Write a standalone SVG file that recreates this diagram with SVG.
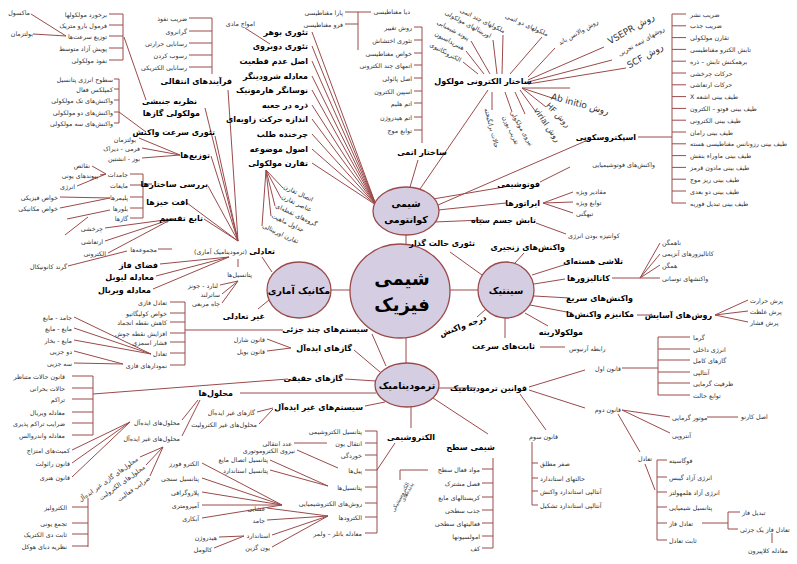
<svg xmlns="http://www.w3.org/2000/svg" width="797" height="564" viewBox="0 0 797 564">
<style>
text{font-family:"DejaVu Sans",sans-serif;dominant-baseline:central;fill:#333;font-size:6.3px}
.b{font-weight:bold;font-size:8px;fill:#000}
.e{text-anchor:end}
.s{text-anchor:start}
.m{text-anchor:middle}
.nt{font-weight:bold;font-size:9.5px;fill:#000;text-anchor:middle}
.big{font-weight:bold;font-size:18px;fill:#000;text-anchor:middle}
.c path{stroke:#9b4a4a;stroke-width:1;fill:none}
ellipse{fill:#d5cde2;stroke:#9b4a4a;stroke-width:1.3}
</style>
<rect width="797" height="564" fill="#fff"/>
<g id="connectors" class="c">
<path d="M406 235V244M331 290H350M450 290H478M406 338V363"/>
<path d="M109 14H123M109 25H123M109 36H123M109 48H123M109 60H123M123 14V60M31 14L66 36M33 34L66 36M124 37L146 100"/>
<path d="M114 79H119M114 89H119M114 100H119M114 112H119M114 123H119M119 79V123M119 112L146 132"/>
<path d="M189 18H212M189 31H212M189 43H212M189 55H212M189 67H212M212 18V74M245 28L270 44"/>
<path d="M139 138L180 155M142 148L180 155M142 158L180 155M92 166L106 174M100 175L106 174M77 186L106 174"/>
<path d="M130 174H143M130 185H143M130 197H143M130 208H143M130 218H143M143 174V218M143 184H152M60 197L110 198M60 208L110 198M67 219L110 210M65 235L88 217"/>
<path d="M105 228L172 219M105 241L172 219M108 253L172 219M68 266L127 251M158 249H172"/>
<path d="M228 90L238 241M205 108L238 241M215 136L238 241M211 156L238 241M208 186L238 241M187 203L238 241M204 219L238 241"/>
<path d="M160 264L229 257M156 276L229 257M153 289L229 257M262 257L272 272M238 259V267M220 285L238 281M222 294L238 281M222 303L238 281M269 300L258 309"/>
<path d="M170 302H185M170 313H185M170 322H185M170 333H185M170 342H185M170 353H185M170 365H185M185 302V365M185 330H283"/>
<path d="M74 317L151 354M74 328L151 354M74 340L151 354M74 351L123 364M74 363L123 364M267 339L291 348M267 351L291 348M372 334L386 366M354 350L380 372"/>
<path d="M312 32L376 205M312 46L376 205M312 61L376 205M312 76L376 205M312 90L376 205M312 105L376 205M312 119L376 205M312 134L376 205M312 149L376 205M312 163L376 205"/>
<path d="M266 170L283 188M266 170L281 198M266 170L275 206M266 170L271 216M266 170L262 226"/>
<path d="M345 12H371M345 24H358M358 12V50"/>
<path d="M414 27H422M414 40H422M414 53H422M414 65H422M414 78H422M414 91H422M414 103H422M414 117H422M414 130H422M422 27V143M418 160L410 187"/>
<path d="M488 90L420 189M478 74L463 62M484 74L466 51M490 74L471 41M497 74L493 40M502 74L503 35M510 74L542 37"/>
<path d="M528 77L555 48M528 80L604 47M528 82L612 60M528 84L626 68M522 88H570M522 88L555 99M522 88L546 107M520 90L536 112M515 92L525 114M505 92L512 112M492 92V110"/>
<path d="M438 205L588 140M638 137H672M672 14V203"/>
<path d="M672 14H686M672 25.8H686M672 37.6H686M672 49.4H686M672 61.2H686M672 73H686M672 84.8H686M672 96.6H686M672 108.4H686M672 120.2H686M672 132H686M672 143.8H686M672 155.6H686M672 167.4H686M672 179.2H686M672 191H686M672 203H686"/>
<path d="M433 199L510 186M540 182L570 167M438 210L506 203M434 222L483 220M543 203L573 192M543 203L573 202M543 203L573 213M536 223L566 234"/>
<path d="M450 252L482 275M524 253L515 263M532 275L570 263M534 284L565 279M612 278H640M640 278L660 243M640 278L660 254M640 278L660 265M640 278H660"/>
<path d="M534 296L570 298M530 305L572 313M637 315H652M715 315L748 300M715 315L748 311M715 315L748 322M525 313L548 326M505 318V338M540 347H565M486 309L477 317"/>
<path d="M437 388H476M529 387L585 370M529 390L585 408M520 394L546 430M622 368H658M658 337V395M658 337H690M658 349H690M658 360H690M658 372H690M658 383H690M658 395H690"/>
<path d="M622 410L670 417M622 410L670 433M707 417H738M618 414L640 452M645 464L655 490M657 460V540M657 460H667M657 477H667M657 492H667M657 507H667M657 523H667M657 540H667M702 523H728M728 512V529M728 512H740M728 529H738M772 533V543"/>
<path d="M532 442V505M532 463H538M532 478H538M532 491H538M532 505H538"/>
<path d="M433 398L488 434M493 458V548M482 469H493M482 483H493M482 497H493M482 510H493M482 523H493M482 536H493M482 548H493M428 470H400V480"/>
<path d="M411 407V428M395 443L377 470M377 431V533M365 431H377M365 443H377M365 455H377M365 470H377M365 487H377M365 503H377M365 517H377M365 533H377M294 443H327M297 450L338 468M270 460L328 486M270 470L328 486"/>
<path d="M202 463L282 505M202 478L282 505M202 492L282 505M202 505L282 505M202 518L282 505M267 508L328 516M267 520L328 516M272 535L328 516M272 547L328 516M219 537L244 536M214 548L244 536"/>
<path d="M345 379L376 381M93 394L288 379M72 376H93M72 388H93M72 399H93M72 412H93M72 423H93M72 435H93M93 376V435M240 393H376M182 420L198 400M182 436L200 400M365 406L385 402M257 412L273 408M259 424L273 409"/>
<path d="M72 450L130 422M72 463L130 422M72 477L130 422M163 447L140 457M163 447L146 465M163 447L150 476M88 498V547M72 507H88M72 523H88M72 534H88M72 546H88"/>
</g>
<g id="n-central"><ellipse cx="400" cy="291" rx="50" ry="47"/><text class="big" x="402" y="278">شیمی</text><text class="big" x="402" y="304">فیزیک</text></g>
<g id="n-quantum"><ellipse cx="406" cy="211" rx="33" ry="24"/><text class="nt" x="406" y="203">شیمی</text><text class="nt" x="406" y="219">کوانتومی</text></g>
<g id="n-kinetics"><ellipse cx="506" cy="290" rx="28" ry="28"/><text class="nt" x="506" y="290">سینتیک</text></g>
<g id="n-statmech"><ellipse cx="299" cy="290" rx="32" ry="28"/><text class="nt" x="299" y="290">مکانیک آماری</text></g>
<g id="n-thermo"><ellipse cx="407" cy="385" rx="32" ry="22"/><text class="nt" x="407" y="385">ترمودینامیک</text></g>
<g id="g-kinetic-gas">
<text class="e" x="107" y="14">برخورد مولکولها</text><text class="e" x="107" y="25">فرمول بارو متریک</text><text class="e" x="107" y="36">توزیع سرعت‌ها</text><text class="e" x="107" y="48">پویش آزاد متوسط</text><text class="e" x="107" y="60">نفوذ مولکولی</text>
<text class="e" x="30" y="12">ماکسول</text><text class="e" x="33" y="33">بولتزمان</text>
<text class="b e" x="197" y="101">نظریه جنبشی</text><text class="b e" x="200" y="113">مولکولی گازها</text>
</g>
<g id="g-rate">
<text class="e" x="113" y="79">سطوح انرژی پتانسیل</text><text class="e" x="113" y="89">کمپلکس فعال</text><text class="e" x="113" y="100">واکنش‌های تک مولکولی</text><text class="e" x="113" y="112">واکنش‌های دو مولکولی</text><text class="e" x="113" y="123">واکنش‌های سه مولکولی</text>
<text class="b e" x="215" y="132">تئوری سرعت واکنش</text>
</g>
<g id="g-transport">
<text class="e" x="187" y="18">ضریب نفوذ</text><text class="e" x="187" y="31">گرانروی</text><text class="e" x="187" y="43">رسانایی حرارتی</text><text class="e" x="187" y="55">رسوب کردن</text><text class="e" x="187" y="67">رسانایی الکتریکی</text>
<text class="b e" x="232" y="81">فرآیندهای انتقالی</text><text class="e" x="255" y="23">امواج مادی</text>
</g>
<g id="g-dist">
<text class="e" x="136" y="139">بولتزمان</text><text class="e" x="140" y="148">فرمی - دیراک</text><text class="e" x="140" y="158">بوز - انشتین</text><text class="b e" x="210" y="155">توزیع‌ها</text>
</g>
<g id="g-struct">
<text class="e" x="90" y="165">نقائص</text><text class="e" x="98" y="175">پیوندهای یونی</text><text class="e" x="75" y="186">انرژی</text>
<text class="e" x="128" y="174">جامدات</text><text class="e" x="128" y="185">مایعات</text><text class="e" x="128" y="197">پلیمرها</text><text class="e" x="128" y="208">بلورها</text><text class="e" x="128" y="218">گازها</text>
<text class="b e" x="208" y="184">بررسی ساختارها</text>
<text class="e" x="58" y="197">خواص فیزیکی</text><text class="e" x="58" y="208">خواص مکانیکی</text>
<text class="b e" x="188" y="202">افت خیزها</text><text class="b e" x="203" y="218">تابع تقسیم</text>
<text class="e" x="103" y="228">چرخشی</text><text class="e" x="103" y="241">ارتعاشی</text><text class="e" x="106" y="253">الکترونی</text>
<text class="e" x="67" y="266">گرند کانونیکال</text>
</g>
<g id="g-equil">
<text class="e" x="157" y="249">مجموعه‌ها</text><text class="e" x="247" y="251">(ترمودینامیک آماری)</text><text class="b e" x="275" y="251">تعادلی</text>
<text class="b e" x="158" y="265">فضای فاز</text><text class="b e" x="154" y="277">معادله لیوبل</text><text class="b e" x="151" y="290">معادله ویربال</text>
<text class="e" x="252" y="274">پتانسیل‌ها</text><text class="e" x="218" y="285">لنارد - جونز</text><text class="e" x="220" y="294">ساترلند</text><text class="e" x="220" y="303">چاه مربعی</text>
<text class="b e" x="265" y="316">غیر تعادلی</text>
</g>
<g id="g-multi">
<text class="e" x="167" y="302">تعادل فازی</text><text class="e" x="167" y="313">خواص کولیگاتیو</text><text class="e" x="167" y="322">کاهش نقطه انجماد</text><text class="e" x="167" y="333">افزایش نقطه جوش</text><text class="e" x="167" y="342">فشار اسمزی</text><text class="e" x="167" y="353">تعادل</text><text class="e" x="167" y="365">نمودارهای فازی</text>
<text class="e" x="72" y="317">جامد - مایع</text><text class="e" x="72" y="328">مایع - مایع</text><text class="e" x="72" y="340">مایع - بخار</text><text class="e" x="72" y="351">دو جزیی</text><text class="e" x="72" y="363">سه جزیی</text>
<text class="b e" x="368" y="329">سیستم‌های چند جزئی</text>
<text class="e" x="265" y="339">قانون شارل</text><text class="e" x="265" y="351">قانون بویل</text><text class="b e" x="352" y="348">گازهای ایده‌آل</text>
</g>
<g id="g-quantum-list">
<text class="b e" x="308" y="32">تئوری بوهر</text><text class="b e" x="308" y="46">تئوری دوبروی</text><text class="b e" x="308" y="61">اصل عدم قطعیت</text><text class="b e" x="308" y="76">معادله شرودینگر</text><text class="b e" x="308" y="90">نوسانگر هارمونیک</text><text class="b e" x="308" y="105">ذره در جعبه</text><text class="b e" x="308" y="119">اندازه حرکت زاویه‌ای</text><text class="b e" x="308" y="134">چرخنده طلب</text><text class="b e" x="308" y="149">اصول موضوعه</text><text class="b e" x="308" y="163">تقارن مولکولی</text>
<text class="s" transform="translate(284,186) rotate(25)">اتصال تقارن</text><text class="s" transform="translate(282,196) rotate(25)">عناصر تقارن</text><text class="s" transform="translate(276,205) rotate(25)">گروه‌های نقطه‌ای</text><text class="s" transform="translate(272,215) rotate(25)">جداول ماهیت</text><text class="s" transform="translate(263,225) rotate(25)">تقارن اوربیتالی</text>
</g>
<g id="g-atomic">
<text class="e" x="343" y="12">پارا مغناطیسی</text><text class="e" x="343" y="24">فرو مغناطیسی</text><text class="e" x="410" y="11">دیا مغناطیسی</text>
<text class="e" x="412" y="27">روش تغییر</text><text class="e" x="412" y="40">تئوری اختشاش</text><text class="e" x="412" y="53">خواص مغناطیسی</text><text class="e" x="412" y="65">اتمهای چند الکترونی</text><text class="e" x="412" y="78">اصل پائولی</text><text class="e" x="412" y="91">اسپین الکترون</text><text class="e" x="412" y="103">اتم هلیم</text><text class="e" x="412" y="117">اتم هیدروژن</text><text class="e" x="412" y="130">توابع موج</text>
<text class="b m" x="422" y="152">ساختار اتمی</text>
</g>
<g id="g-molecular">
<text class="b m" x="483" y="81">ساختار الکترونی مولکول</text>
<text class="e" transform="translate(461,60) rotate(28)">الکترونگاتیوی</text><text class="e" transform="translate(464,48) rotate(28)">هیبریداسیون</text><text class="e" transform="translate(469,38) rotate(28)">پیوند شیمیایی</text><text class="e" transform="translate(491,36) rotate(28)">اوربیتالهای مولکولی</text><text class="e" transform="translate(505,31) rotate(26)">ملکولهای چند اتمی</text><text class="e" transform="translate(548,34) rotate(24)">ملکولهای دو اتمی</text>
<text class="m" transform="translate(578,32) rotate(-30)">روش والانس باند</text>
<text class="m" style="font-size:9px;direction:rtl" transform="translate(631,29) rotate(-30)">روش VSEPR</text>
<text class="m" transform="translate(641,41) rotate(-30)">روشهای نیمه تجربی</text>
<text class="m" style="font-size:9px;direction:rtl" transform="translate(645,56) rotate(-30)">روش SCF</text>
<text class="m" style="font-size:9px;direction:rtl" transform="translate(580,104) rotate(15)">روش Ab initio</text>
<text class="m" style="font-size:8px;direction:rtl" transform="translate(558,115) rotate(45)">روش HF</text>
<text class="m" style="font-size:8px;direction:rtl" transform="translate(547,125) rotate(55)">روش virial</text>
<text class="m" transform="translate(522,128) rotate(60)">نیروی مولکولی</text>
<text class="m" transform="translate(511,130) rotate(65)">تقریب بورن</text>
<text class="m" transform="translate(492,128) rotate(75)">حالات برانگیخته</text>
</g>
<g id="g-spectro">
<text class="b e" x="636" y="137">اسپکتروسکوپی</text>
<text class="s" x="690" y="14">ضریب نشر</text><text class="s" x="690" y="25.8">ضریب جذب</text><text class="s" x="690" y="37.6">تقارن مولکولی</text><text class="s" x="690" y="49.4">تابش الکترو مغناطیسی</text><text class="s" x="690" y="61.2">برهمکنش تابش – ذره</text><text class="s" x="690" y="73">حرکات چرخشی</text><text class="s" x="690" y="84.8">حرکات ارتعاشی</text><text class="s" x="690" y="96.6" style="direction:rtl;text-anchor:end">طیف بینی اشعه X</text><text class="s" x="690" y="108.4">طیف بینی فوتو – الکترون</text><text class="s" x="690" y="120.2">طیف بینی الکترونی</text><text class="s" x="690" y="132">طیف بینی رامان</text><text class="s" x="690" y="143.8">طیف بینی رزونانس مغناطیسی هسته</text><text class="s" x="690" y="155.6">طیف بینی ماوراء بنفش</text><text class="s" x="690" y="167.4">طیف بینی مادون قرمز</text><text class="s" x="690" y="179.2">طیف بینی ریز موج</text><text class="s" x="690" y="191">طیف بینی دو بعدی</text><text class="s" x="690" y="203">طیف بینی تبدیل فوریه</text>
</g>
<g id="g-photo">
<text class="e" x="655" y="164">واکنش‌های فوتوشیمیایی</text><text class="b e" x="540" y="184">فوتوشیمی</text><text class="b e" x="540" y="203">ایراتورها</text><text class="b e" x="536" y="220">تابش جسم سیاه</text>
<text class="s" x="576" y="191">مقادیر ویژه</text><text class="s" x="576" y="202">توابع ویژه</text><text class="s" x="576" y="213">تبهگنی</text><text class="s" x="568" y="235">کوانتیزه بودن انرژی</text>
</g>
<g id="g-kinetics">
<text class="b e" x="475" y="243">تئوری حالت گذار</text><text class="b e" x="565" y="247">واکنش‌های زنجیری</text><text class="b e" x="623" y="261">تلاشی هسته‌ای</text><text class="b e" x="610" y="278">کاتالیزورها</text>
<text class="s" x="662" y="242">ناهمگن</text><text class="s" x="662" y="253">کاتالیزورهای آنزیمی</text><text class="s" x="662" y="265">همگن</text><text class="s" x="662" y="278">واکنشهای توسانی</text>
<text class="b e" x="633" y="298">واکنش‌های سریع</text><text class="b e" x="634" y="314">مکانیزم واکنش‌ها</text><text class="b e" x="712" y="315">روش‌های آسایش</text>
<text class="s" x="750" y="300">پرش حرارت</text><text class="s" x="750" y="311">پرش غلظت</text><text class="s" x="750" y="322">پرش فشار</text>
<text class="b e" x="583" y="332">مولکولاریته</text><text class="b e" x="535" y="346">ثابت‌های سرعت</text><text class="s" x="569" y="348">رابطه آرنیوس</text>
<text class="b m" transform="translate(463,326) rotate(-20)">درجه واکنش</text>
</g>
<g id="g-laws">
<text class="b e" x="527" y="388">قوانین ترمودینامیک</text>
<text class="e" x="621" y="368">قانون اول</text><text class="e" x="621" y="409">قانون دوم</text><text class="e" x="558" y="436">قانون سوم</text>
<text class="s" x="693" y="337">گرما</text><text class="s" x="693" y="349">انرژی داخلی</text><text class="s" x="693" y="360">گازهای کامل</text><text class="s" x="693" y="372">آنتالپی</text><text class="s" x="693" y="383">ظرفیت گرمایی</text><text class="s" x="693" y="395">توابع حالت</text>
<text class="s" x="672" y="417">موتور گرمایی</text><text class="s" x="741" y="416">اصل کارنو</text><text class="s" x="672" y="435">آنتروپی</text>
<text class="e" x="652" y="458">تعادل</text>
<text class="s" x="669" y="460">فوگاسیته</text><text class="s" x="669" y="477">انرژی آزاد گیبس</text><text class="s" x="669" y="492">انرژی آزاد هلمهولتز</text><text class="s" x="669" y="507">پتانسیل شیمیایی</text><text class="s" x="669" y="523">تعادل فاز</text><text class="s" x="669" y="540">ثابت تعادل</text>
<text class="s" x="742" y="512">تبدیل فاز</text><text class="s" x="740" y="529">تعادل فاز یک جزئی</text><text class="m" x="768" y="550">معادله کلاپیرون</text>
<text class="s" x="540" y="463">صفر مطلق</text><text class="s" x="540" y="478">حالتهای استاندارد</text><text class="s" x="540" y="491">آنتالپی استاندارد واکنش</text><text class="s" x="540" y="505">آنتالپی استاندارد تشکیل</text>
</g>
<g id="g-surface">
<text class="b e" x="495" y="447">شیمی سطح</text>
<text class="e" x="480" y="469">مواد فعال سطح</text><text class="e" x="480" y="483">فصل مشترک</text><text class="e" x="480" y="497">کریستالهای مایع</text><text class="e" x="480" y="510">جذب سطحی</text><text class="e" x="480" y="523">فعالیتهای سطحی</text><text class="e" x="480" y="536">امولسیونها</text><text class="e" x="480" y="548">کف</text>
<text class="m" style="font-size:5.5px" transform="translate(407,492) rotate(-62)">پدیده‌های</text><text class="m" style="font-size:5.5px" transform="translate(400,497) rotate(-62)">الکتروسینتیکی</text>
</g>
<g id="g-electro">
<text class="b m" x="411" y="437">الکتروشیمی</text>
<text class="e" x="362" y="431">پتانسیل الکتروشیمی</text><text class="e" x="362" y="443">انتقال یون</text><text class="e" x="362" y="455">خوردگی</text><text class="e" x="362" y="470">پیل‌ها</text><text class="e" x="362" y="487">پتانسیل‌ها</text><text class="e" x="362" y="503">روش‌های الکتروشیمیایی</text><text class="e" x="362" y="517">الکترودها</text><text class="e" x="362" y="533">معادله باتلر – ولمر</text>
<text class="e" x="292" y="443">عدد انتقالی</text><text class="e" x="295" y="450">نیروی الکتروموتوری</text><text class="e" x="268" y="459">پتانسیل اتصال مایع</text><text class="e" x="268" y="470">پتانسیل استاندارد</text>
<text class="e" x="199" y="463">الکترو فورز</text><text class="e" x="199" y="478">پتانسیل سنجی</text><text class="e" x="199" y="492">پلاروگرافی</text><text class="e" x="199" y="505">آمپرومتری</text><text class="e" x="199" y="518">آبکاری</text>
<text class="e" x="217" y="537">هیدروژن</text><text class="e" x="212" y="549">کالومل</text>
<text class="e" x="265" y="508">غشایی</text><text class="e" x="265" y="520">جامد</text><text class="e" x="270" y="535">استاندارد</text><text class="e" x="270" y="547">یون گزین</text>
</g>
<g id="g-solutions">
<text class="b e" x="343" y="378">گازهای حقیقی</text>
<text class="e" x="65" y="376">قانون حالات متناظر</text><text class="e" x="65" y="388">حالات بحرانی</text><text class="e" x="65" y="399">تراکم</text><text class="e" x="65" y="412">معادله ویریال</text><text class="e" x="65" y="423">ضرایب تراکم پذیری</text><text class="e" x="65" y="435">معادله واندروالس</text>
<text class="b e" x="233" y="393">محلول‌ها</text>
<text class="e" x="180" y="422">محلول‌های ایده‌آل</text><text class="e" x="180" y="438">محلول‌های غیر ایده‌آل</text>
<text class="b e" x="363" y="407">سیستم‌های غیر ایده‌آل</text>
<text class="e" x="255" y="412">گازهای غیر ایده‌آل</text><text class="e" x="257" y="424">محلول‌های غیر الکترولیت</text>
<text class="e" x="70" y="450">کمیت‌های امتزاج</text><text class="e" x="70" y="463">قانون رائولت</text><text class="e" x="70" y="477">قانون هنری</text>
<text class="e" transform="translate(137,458) rotate(-36)">محلول‌های گازی غیر ایده‌آل</text><text class="e" transform="translate(144,466) rotate(-36)">محلول‌های الکترولیت</text><text class="e" transform="translate(149,477) rotate(-36)">ضرایب فعالیت</text>
<text class="e" x="67" y="507">الکترولیز</text><text class="e" x="67" y="523">تجمع یونی</text><text class="e" x="67" y="534">ثابت دی الکتریک</text><text class="e" x="67" y="546">نظریه دبای هوکل</text>
</g>
</svg>
